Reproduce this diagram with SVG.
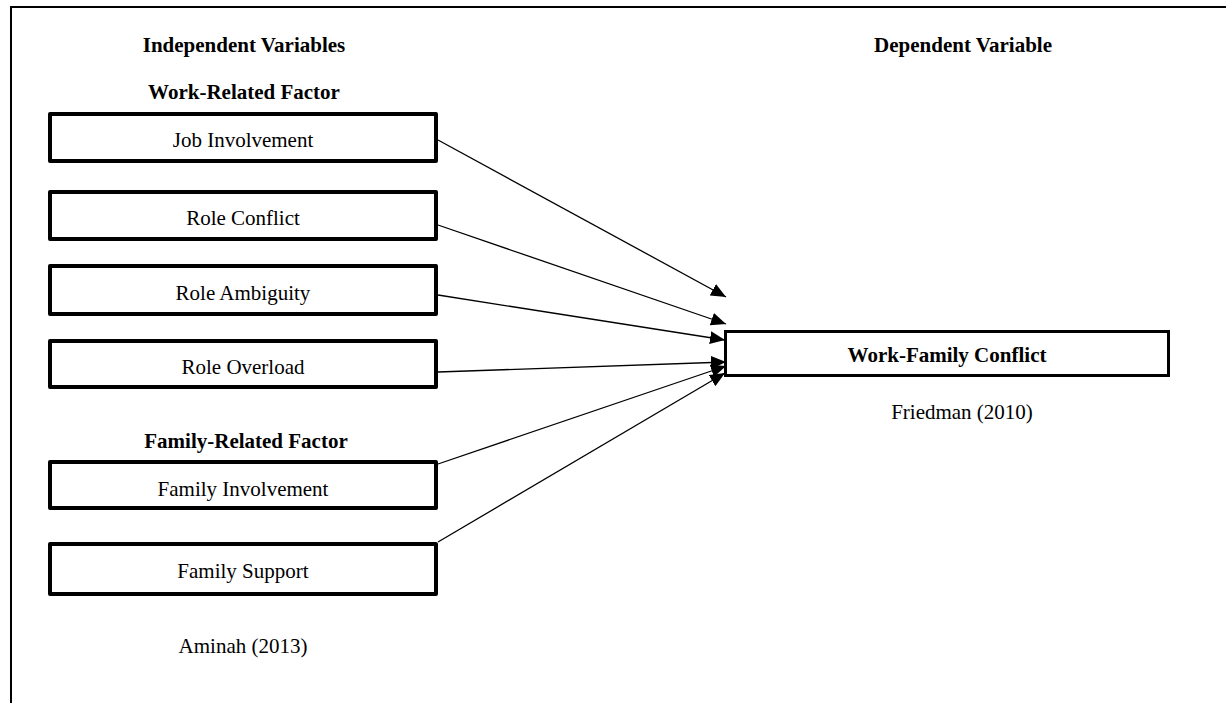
<svg xmlns="http://www.w3.org/2000/svg" width="1226" height="703" viewBox="0 0 1226 703">
<style>
.t{font-family:"Liberation Serif","Times New Roman",serif;font-size:21px;fill:#000;text-anchor:middle}
.b{font-weight:bold}
.box{fill:#fff;stroke:#000;stroke-width:4;stroke-linejoin:round}
.box2{fill:#fff;stroke:#000;stroke-width:3}
.c{stroke:#000;stroke-width:1.3;fill:none;marker-end:url(#ah)}
</style>
<defs>
<marker id="ah" markerUnits="userSpaceOnUse" markerWidth="16" markerHeight="13" refX="15" refY="6.5" orient="auto">
<path d="M0,0 L15,6.5 L0,13 z" fill="#000"/>
</marker>
</defs>
<rect width="1226" height="703" fill="#fff"/>
<g id="frame">
<path d="M11,703 L11,7 L1226,7" fill="none" stroke="#000" stroke-width="2"/>
</g>
<g id="headers">
<text class="t b" x="244" y="52">Independent Variables</text>
<text class="t b" x="963" y="52">Dependent Variable</text>
<text class="t b" x="244" y="99">Work-Related Factor</text>
<text class="t b" x="246" y="448">Family-Related Factor</text>
<text class="t" x="243" y="653">Aminah (2013)</text>
<text class="t" x="962" y="419">Friedman (2010)</text>
</g>
<g id="connectors">
<line class="c" x1="438" y1="140" x2="726" y2="297"/>
<line class="c" x1="438" y1="225" x2="726" y2="324"/>
<line class="c" x1="438" y1="295" x2="725" y2="340"/>
<line class="c" x1="438" y1="372" x2="726" y2="362"/>
<line class="c" x1="438" y1="464" x2="726" y2="366"/>
<line class="c" x1="438" y1="542" x2="725" y2="373"/>
</g>
<g id="job-involvement">
<rect class="box" x="50" y="114" width="386" height="47"/>
<text class="t" x="243" y="147">Job Involvement</text>
</g>
<g id="role-conflict">
<rect class="box" x="50" y="192" width="386" height="47"/>
<text class="t" x="243" y="225">Role Conflict</text>
</g>
<g id="role-ambiguity">
<rect class="box" x="50" y="266" width="386" height="48"/>
<text class="t" x="243" y="300">Role Ambiguity</text>
</g>
<g id="role-overload">
<rect class="box" x="50" y="341" width="386" height="46"/>
<text class="t" x="243" y="374">Role Overload</text>
</g>
<g id="family-involvement">
<rect class="box" x="50" y="462" width="386" height="46"/>
<text class="t" x="243" y="496">Family Involvement</text>
</g>
<g id="family-support">
<rect class="box" x="50" y="544" width="386" height="50"/>
<text class="t" x="243" y="578">Family Support</text>
</g>
<g id="work-family-conflict">
<rect class="box2" x="725.5" y="331.5" width="443" height="44"/>
<text class="t b" x="947" y="362">Work-Family Conflict</text>
</g>
</svg>
